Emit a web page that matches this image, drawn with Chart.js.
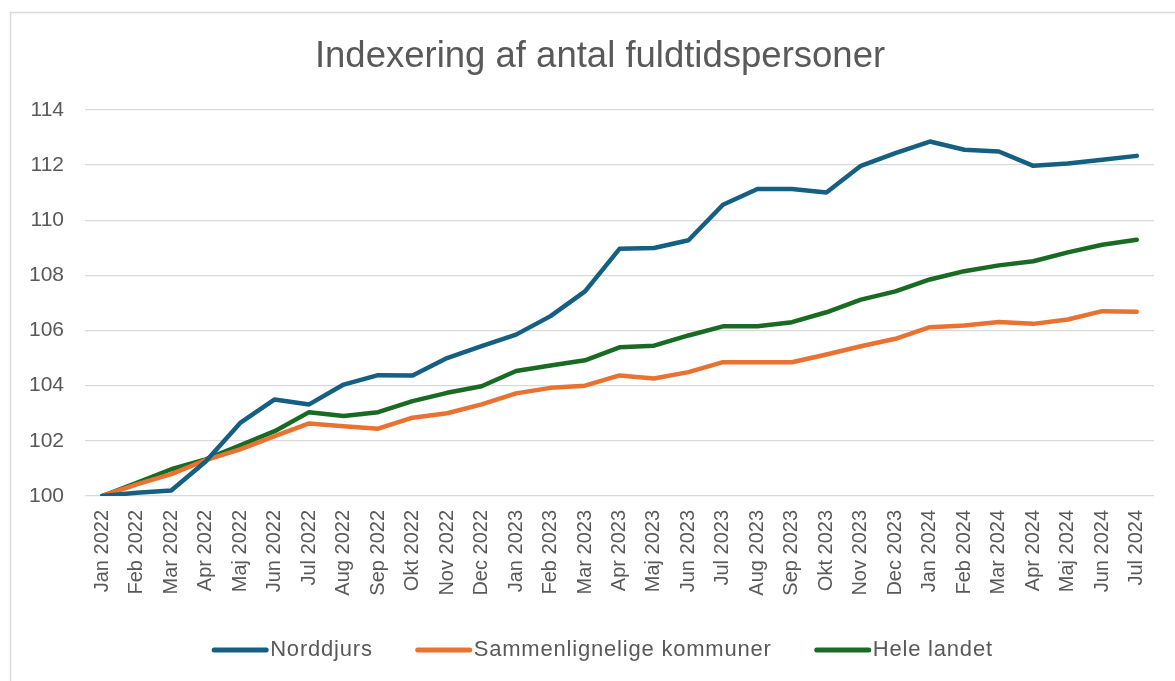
<!DOCTYPE html>
<html>
<head>
<meta charset="utf-8">
<script src="https://cdn.jsdelivr.net/npm/chart.js@4.4.1/dist/chart.umd.min.js"></script>
<style>
  html, body { margin: 0; padding: 0; background: #ffffff; }
  #wrap { position: relative; width: 1175px; height: 681px; }
  canvas { display: block; }
</style>
</head>
<body>
<div id="wrap"><canvas id="c" width="1175" height="681"></canvas></div>
<script>
const categories = ["Jan 2022","Feb 2022","Mar 2022","Apr 2022","Maj 2022","Jun 2022","Jul 2022","Aug 2022","Sep 2022","Okt 2022","Nov 2022","Dec 2022",
  "Jan 2023","Feb 2023","Mar 2023","Apr 2023","Maj 2023","Jun 2023","Jul 2023","Aug 2023","Sep 2023","Okt 2023","Nov 2023","Dec 2023",
  "Jan 2024","Feb 2024","Mar 2024","Apr 2024","Maj 2024","Jun 2024","Jul 2024"];

const norddjurs = [100.0, 100.12, 100.2, 101.25, 102.65, 103.5, 103.32, 104.04, 104.38, 104.37, 105.0, 105.43,
  105.85, 106.52, 107.42, 108.96, 108.99, 109.27, 110.56, 111.13, 111.13, 111.0, 111.97, 112.43,
  112.85, 112.55, 112.49, 111.97, 112.05, 112.19, 112.33];

const sammenlignelige = [100.0, 100.42, 100.79, 101.3, 101.69, 102.17, 102.63, 102.53, 102.44, 102.84, 103.0, 103.32,
  103.72, 103.92, 104.0, 104.37, 104.26, 104.49, 104.85, 104.85, 104.85, 105.13, 105.43, 105.7,
  106.12, 106.18, 106.31, 106.24, 106.4, 106.7, 106.68];

const heleLandet = [100.0, 100.48, 100.97, 101.33, 101.84, 102.35, 103.04, 102.9, 103.04, 103.44, 103.74, 103.98,
  104.53, 104.73, 104.92, 105.39, 105.45, 105.82, 106.15, 106.15, 106.3, 106.66, 107.12, 107.42,
  107.85, 108.15, 108.36, 108.51, 108.83, 109.11, 109.29];

const seriesLabels = ["Norddjurs", "Sammenlignelige kommuner", "Hele landet"];
const seriesColors = ["#156082", "#E97132", "#196B24"];

const yMin = 100, yMax = 114, yStep = 2;

const textColor = "#595959";
const fontFamily = "'Liberation Sans', Arial, sans-serif";

const borderPlugin = {
  id: 'frame',
  beforeDraw(chart) {
    const ctx = chart.ctx;
    ctx.save();
    ctx.fillStyle = '#ffffff';
    ctx.fillRect(0, 0, chart.width, chart.height);
    ctx.strokeStyle = '#d9d9d9';
    ctx.lineWidth = 1.5;
    ctx.strokeRect(10.5, 12.5, chart.width + 20, chart.height + 20);
    ctx.restore();
  }
};

const legendPlugin = {
  id: 'lineLegend',
  afterDraw(chart) {
    const ctx = chart.ctx;
    const swatchW = 56, gapText = 2, gapItem = 43, swatchH = 5;
    ctx.save();
    ctx.font = "22px " + fontFamily;
    if ('letterSpacing' in ctx) ctx.letterSpacing = '0.8px';
    const items = chart.data.datasets.map(ds => ({ text: ds.label, color: ds.borderColor, w: ctx.measureText(ds.label).width }));
    let total = 0;
    items.forEach((it, i) => { total += swatchW + gapText + it.w + (i < items.length - 1 ? gapItem : 0); });
    const centerX = (chart.chartArea.left + chart.chartArea.right) / 2 - 17;
    let x = centerX - total / 2;
    const y = 650;
    items.forEach(it => {
      ctx.strokeStyle = it.color;
      ctx.lineWidth = swatchH;
      ctx.lineCap = 'round';
      ctx.beginPath();
      ctx.moveTo(x + 2, y);
      ctx.lineTo(x + swatchW - 2, y);
      ctx.stroke();
      ctx.fillStyle = textColor;
      ctx.textBaseline = 'middle';
      ctx.textAlign = 'left';
      ctx.fillText(it.text, x + swatchW + gapText, y);
      x += swatchW + gapText + it.w + gapItem;
    });
    ctx.restore();
  }
};

const datasets = [norddjurs, sammenlignelige, heleLandet].map((vals, i) => ({
  label: seriesLabels[i],
  data: vals,
  borderColor: seriesColors[i],
  backgroundColor: seriesColors[i],
  borderWidth: 4.5,
  pointRadius: 0,
  pointHoverRadius: 0,
  tension: 0,
  fill: false,
  borderJoinStyle: 'round',
  borderCapStyle: 'round'
}));

new Chart(document.getElementById('c'), {
  type: 'line',
  data: { labels: categories, datasets: datasets },
  plugins: [borderPlugin, legendPlugin],
  options: {
    responsive: false,
    animation: false,
    devicePixelRatio: 1,
    layout: { padding: { left: 28, right: 3, top: 0, bottom: 0 } },
    plugins: {
      legend: { display: false },
      tooltip: { enabled: false },
      title: {
        display: true,
        text: 'Indexering af antal fuldtidspersoner',
        color: textColor,
        font: { family: fontFamily, size: 36.5, weight: 'normal' },
        padding: { top: 35, bottom: 31 }
      }
    },
    scales: {
      x: {
        offset: true,
        grid: { display: false, drawTicks: false },
        border: { display: false },
        ticks: {
          color: textColor,
          font: { family: fontFamily, size: 20 },
          maxRotation: 90,
          minRotation: 90,
          autoSkip: false,
          padding: 14
        },
        afterFit(scale) { scale.height = 185; }
      },
      y: {
        min: yMin,
        max: yMax,
        grid: { color: '#d9d9d9', lineWidth: 1.2, drawTicks: false },
        border: { display: false },
        ticks: {
          stepSize: yStep,
          color: textColor,
          font: { family: fontFamily, size: 21 },
          padding: 21
        },
        afterFit(scale) { scale.width = 57; }
      },
      yRightSpace: {
        position: 'right',
        min: yMin,
        max: yMax,
        grid: { display: false, drawTicks: false },
        border: { display: false },
        ticks: { display: false },
        afterFit(scale) { scale.width = 12; }
      }
    }
  }
});
</script>
</body>
</html>
